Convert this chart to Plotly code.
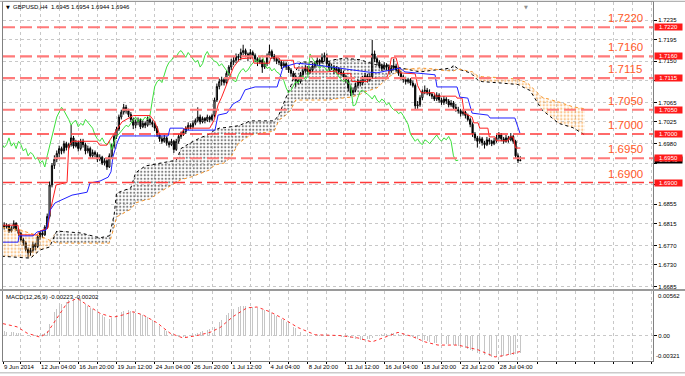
import plotly.graph_objects as go
from plotly.subplots import make_subplots

# ---------------- data (prices in pips above 1.6000) ----------------
BASE = 1.6
PIP = 0.0001
FIRST_BAR = -15          # bar index 0 = 12 Jun 04:00, H4 bars

OPEN_P = [812, 808, 812, 800, 806, 816, 803, 795, 782, 776, 762, 755, 760, 772, 768,
          788, 796, 792, 808, 830, 895, 935, 948, 960, 970,
          965, 980, 972, 978, 992, 975, 982, 970, 985, 978,
          965, 970, 955, 962, 958, 948, 952, 940, 945, 932,
          955, 975, 995, 1010, 1035, 1045, 1055, 1048, 1040, 1030,
          1018, 1025, 1028, 1015, 1022, 1018, 1030, 1024, 1020, 1012,
          998, 990, 985, 992, 982, 978, 985, 968, 985, 995,
          1000, 1005, 1012, 1018, 1015, 1022, 1028, 1035, 1025, 1032,
          1028, 1035, 1030, 1038, 1070, 1098, 1108, 1112, 1106, 1125,
          1138, 1148, 1152, 1160, 1158, 1168, 1172, 1165, 1158, 1168,
          1162, 1155, 1148, 1152, 1138, 1145, 1162, 1170, 1160, 1155,
          1150, 1148, 1140, 1145, 1138, 1132, 1125, 1118, 1110, 1108,
          1122, 1130, 1135, 1128, 1132, 1140, 1145, 1152, 1148, 1158,
          1162, 1145, 1135, 1138, 1130, 1135, 1128, 1125, 1118, 1110,
          1095, 1085, 1090, 1100, 1108, 1105, 1115, 1120, 1112, 1118,
          1165, 1155, 1148, 1140, 1135, 1142, 1138, 1130, 1136, 1140,
          1132, 1125, 1118, 1112, 1108, 1112, 1105, 1100, 1058, 1060,
          1075, 1088, 1090, 1085, 1082, 1078, 1072, 1080, 1070, 1065,
          1072, 1068, 1060, 1064, 1055, 1050, 1048, 1042, 1045, 1038,
          1030, 1020, 1000, 992, 985, 990, 982, 978, 988, 985,
          980, 986, 992, 998, 990, 985, 992, 988, 995, 985,
          955, 945]
HIGH_P = [818, 816, 814, 810, 822, 818, 806, 798, 786, 779, 766, 765, 778, 776, 792,
          800, 802, 812, 836, 902, 940, 956, 966, 976, 974,
          986, 984, 982, 1019, 996, 988, 986, 990, 990, 982,
          976, 974, 968, 966, 962, 958, 955, 950, 948, 960,
          980, 1000, 1015, 1040, 1050, 1062, 1060, 1052, 1045, 1034,
          1030, 1034, 1032, 1028, 1026, 1036, 1034, 1028, 1024, 1016,
          1002, 995, 998, 995, 986, 990, 988, 990, 1000, 1005,
          1010, 1016, 1024, 1022, 1028, 1032, 1055, 1040, 1036, 1035,
          1040, 1038, 1042, 1075, 1104, 1114, 1118, 1116, 1130, 1142,
          1155, 1160, 1166, 1165, 1176, 1184, 1176, 1168, 1175, 1172,
          1166, 1158, 1160, 1155, 1150, 1166, 1184, 1174, 1165, 1160,
          1156, 1152, 1150, 1148, 1142, 1136, 1130, 1122, 1115, 1128,
          1135, 1142, 1140, 1138, 1146, 1150, 1158, 1155, 1166, 1168,
          1166, 1150, 1145, 1142, 1140, 1138, 1134, 1130, 1122, 1114,
          1100, 1096, 1106, 1114, 1112, 1120, 1126, 1124, 1125, 1194,
          1172, 1160, 1152, 1145, 1148, 1146, 1142, 1142, 1155, 1145,
          1136, 1130, 1122, 1118, 1116, 1115, 1110, 1104, 1068, 1080,
          1092, 1100, 1095, 1092, 1086, 1082, 1086, 1084, 1075, 1078,
          1076, 1072, 1070, 1068, 1062, 1056, 1052, 1050, 1048, 1042,
          1034, 1024, 1004, 996, 995, 994, 986, 994, 992, 988,
          992, 998, 1004, 1002, 994, 998, 996, 1002, 998, 988,
          960, 954]
LOW_P = [803, 805, 796, 797, 804, 800, 790, 778, 770, 758, 745, 749, 756, 760, 765,
         782, 786, 790, 804, 826, 890, 928, 942, 952, 958,
         960, 966, 968, 974, 970, 972, 964, 966, 972, 958,
         960, 950, 950, 952, 942, 944, 936, 935, 926, 930,
         950, 970, 990, 1006, 1030, 1040, 1042, 1035, 1025, 1010,
         1012, 1018, 1010, 1012, 1012, 1015, 1018, 1014, 1006, 994,
         984, 980, 982, 976, 972, 975, 961, 965, 980, 990,
         996, 1000, 1008, 1010, 1012, 1018, 1024, 1020, 1022, 1022,
         1025, 1024, 1026, 1034, 1066, 1092, 1100, 1100, 1102, 1120,
         1132, 1142, 1146, 1150, 1152, 1162, 1158, 1150, 1154, 1156,
         1148, 1140, 1144, 1126, 1134, 1140, 1158, 1155, 1150, 1144,
         1142, 1134, 1136, 1132, 1126, 1118, 1112, 1097, 1102, 1104,
         1118, 1126, 1122, 1124, 1128, 1135, 1140, 1142, 1145, 1150,
         1140, 1130, 1132, 1124, 1126, 1122, 1120, 1112, 1104, 1088,
         1078, 1080, 1086, 1096, 1098, 1100, 1110, 1106, 1108, 1114,
         1148, 1142, 1135, 1130, 1132, 1132, 1125, 1126, 1132, 1128,
         1120, 1112, 1106, 1102, 1104, 1100, 1096, 1050, 1052, 1056,
         1070, 1082, 1080, 1078, 1072, 1068, 1068, 1064, 1060, 1060,
         1062, 1055, 1056, 1050, 1046, 1042, 1036, 1038, 1032, 1026,
         1014, 994, 986, 972, 980, 976, 970, 975, 978, 975,
         977, 982, 988, 985, 980, 982, 982, 985, 980, 950,
         940, 944]
CLOSE_P = [808, 812, 800, 806, 816, 803, 795, 782, 776, 762, 755, 760, 772, 768, 788,
           796, 792, 808, 830, 895, 935, 948, 960, 970, 965,
           980, 972, 978, 992, 975, 982, 970, 985, 978, 965,
           970, 955, 962, 958, 948, 952, 940, 945, 932, 955,
           975, 995, 1010, 1035, 1045, 1055, 1048, 1040, 1030, 1018,
           1025, 1028, 1015, 1022, 1018, 1030, 1024, 1020, 1012, 998,
           990, 985, 992, 982, 978, 985, 968, 985, 995, 1000,
           1005, 1012, 1018, 1015, 1022, 1028, 1035, 1025, 1032, 1028,
           1035, 1030, 1038, 1070, 1098, 1108, 1112, 1106, 1125, 1138,
           1148, 1152, 1160, 1158, 1168, 1172, 1165, 1158, 1168, 1162,
           1155, 1148, 1152, 1138, 1145, 1162, 1170, 1160, 1155, 1150,
           1148, 1140, 1145, 1138, 1132, 1125, 1118, 1110, 1108, 1122,
           1130, 1135, 1128, 1132, 1140, 1145, 1152, 1148, 1158, 1162,
           1145, 1135, 1138, 1130, 1135, 1128, 1125, 1118, 1110, 1095,
           1085, 1090, 1100, 1108, 1105, 1115, 1120, 1112, 1118, 1165,
           1155, 1148, 1140, 1135, 1142, 1138, 1130, 1136, 1140, 1132,
           1125, 1118, 1112, 1108, 1112, 1105, 1100, 1058, 1060, 1075,
           1088, 1090, 1085, 1082, 1078, 1072, 1080, 1070, 1065, 1072,
           1068, 1060, 1064, 1055, 1050, 1048, 1042, 1045, 1038, 1030,
           1020, 1000, 992, 985, 990, 982, 978, 988, 985, 980,
           986, 992, 998, 990, 985, 992, 988, 995, 985, 955,
           945, 946]

# Ichimoku lines: (bar index, pips)
TENKAN_X = [-15.5, -9.2, -8.8, -1.3, 0, 3.3, 4.2, 5.4, 6.7, 11.3, 12, 13.4, 23.8, 25, 28, 29.3,
            32.2, 34.3, 39, 46, 48, 50, 58.6, 60.7, 71, 73, 74.5, 76, 78.7, 81, 83.7, 89, 89.5,
            96, 96.5, 100, 100.5, 106, 106.5, 112, 112.5, 120, 124, 124.5, 130, 130.5, 137, 137.5,
            145, 146, 147, 149, 150.6, 157, 158, 159.5, 165, 165.5, 174, 174.5, 176.6, 177.5,
            180.8, 181.5, 183.3, 184, 187.4, 188, 190.4, 191, 195.8, 196.5, 198, 199, 201]
TENKAN_P = [812, 812, 792, 792, 800, 806, 840, 870, 895, 900, 975, 985, 985, 977, 977, 988,
            1010, 1025, 1038, 1038, 1025, 1000, 1000, 1012, 1012, 1030, 1060, 1076, 1110, 1138, 1155, 1157, 1146,
            1146, 1157, 1157, 1152, 1152, 1136, 1136, 1128, 1128, 1130, 1125, 1125, 1108, 1108, 1115,
            1115, 1128, 1157, 1157, 1126, 1124, 1100, 1085, 1085, 1078, 1078, 1074, 1074, 1043,
            1035, 1023, 1023, 1012, 1012, 994, 994, 986, 986, 994, 994, 971, 971]
KIJUN_X = [-15.5, -9.2, -8.8, -2.9, -1.3, 2.5, 3.3, 4.2, 6.3, 11.7, 13.4, 19.7, 20.9, 25.1, 28.5,
           29.7, 30.5, 32.2, 33.5, 53.6, 54.4, 59.8, 60.7, 73.2, 74.5, 78.2, 80.8, 83.7, 85.8, 90,
           99.2, 101.7, 107.5, 115.9, 121.3, 129.7, 136.8, 141, 146.4, 150.6, 152.7, 158.2, 165.3,
           166.1, 174.5, 175.7, 179, 180.8, 187.4, 188.3, 198.7, 200.8]
KIJUN_P = [777, 777, 790, 790, 798, 802, 819, 843, 858, 870, 874, 880, 899, 903, 911,
           922, 953, 981, 996, 996, 1012, 1012, 1008, 1008, 1039, 1043, 1062, 1070, 1091, 1097,
           1097, 1138, 1146, 1142, 1138, 1132, 1128, 1126, 1132, 1136, 1128, 1126, 1122,
           1097, 1097, 1076, 1074, 1043, 1039, 1033, 1033, 1002]
SPAN_X = [-16, -8, -4, 0, 4, 7, 17, 25, 29, 31, 32, 38, 40, 44, 46, 50, 55, 57, 59, 63,
          67, 71, 73, 75, 77, 80, 83, 88, 98, 100, 102, 105, 107, 109, 121, 123, 128, 130, 134, 136,
          141, 146, 151, 159, 165, 167, 172, 173, 175, 180, 181, 183, 185, 193, 200, 204, 205, 210,
          217, 223, 228]
SPAN_A_P = [748, 746, 744, 761, 767, 800, 796, 786, 790, 833, 878, 889, 920, 934, 936, 940, 944, 946, 970, 982,
            992, 1000, 1008, 1012, 1013, 1015, 1017, 1027, 1027, 1040, 1065, 1100, 1130, 1148, 1150, 1153, 1157, 1155, 1153, 1150,
            1142, 1142, 1136, 1128, 1132, 1133, 1136, 1142, 1134, 1126, 1122, 1112, 1108, 1105, 1102, 1092, 1090, 1050,
            1022, 1013, 998]
SPAN_B_P = [808, 802, 795, 790, 781, 775, 775, 775, 775, 808, 829, 845, 858, 864, 866, 880, 895, 901, 906, 911,
            918, 926, 936, 938, 940, 953, 981, 998, 1006, 1029, 1035, 1050, 1070, 1070, 1070, 1072, 1075, 1076, 1082, 1087,
            1095, 1118, 1132, 1136, 1134, 1132, 1130, 1130, 1134, 1130, 1128, 1120, 1118, 1116, 1113, 1105, 1100, 1076,
            1066, 1056, 1052]
CHIKOU_SHIFT = 26

# MACD main (histogram, 1e-5 units, one per bar) and signal line vertices
MACD_HIST = [52, 50, 48, 45, 42, 38, 30, 18, 5, -5, -12, -15, -10, -2, 8, 12,
             20, 35, 60, 150, 240, 300, 340, 370, 395, 410, 425,
             445, 460, 475, 480, 470, 455, 430, 400, 375, 350, 330,
             315, 295, 275, 255, 240, 220, 215, 225, 245, 265,
             285, 300, 315, 320, 318, 310, 300, 290, 280, 268, 255, 240, 228, 215,
             198, 175, 150, 120, 95, 75, 55, 40, 25, 10, 0, -12, -18, -20, -15, -8,
             5, 15, 25, 35, 45, 55, 65, 75, 85, 95, 105, 130, 170,
             200, 230, 260, 290, 315, 335, 350, 362, 370, 372, 370, 368, 365, 360,
             352, 345, 335, 325, 318, 308, 295, 280, 262, 245, 230,
             210, 190, 170, 150, 130, 112, 90, 65, 40, 20,
             8, 2, -2, 0, 4, 6, 5, 2, 0, 6, 2, -4, -6, -4, -8, -12, -15, -18, -22,
             -30, -38, -45, -52, -58, -60, -55, -48, -40, -28, -10, 2, 10, 15,
             20, 24, 28, 30, 28, 25, 20, 15, 10, 5, -2, -10, -15, -30, -42, -50,
             -58, -62, -72, -80, -85, -90, -92, -98, -102, -105, -108, -110, -112, -118, -125, -132, -140, -150,
             -160, -172, -185, -198, -210, -220, -230, -240, -248, -255, -262, -268, -272, -270,
             -268, -265, -260, -255, -250, -245, -240, -232, -226, -223]
SIGNAL_X = [-15.5, -9.6, -5.4, 0, 2.9, 7.1, 11.3, 15.5, 19.7, 25.1, 30.5, 34.7, 38.9, 43.1, 49, 54.4,
            59.8, 65.7, 71.1, 75.3, 80.8, 86.6, 90.8, 96.2, 101.3, 108, 115.1, 125.5, 133, 138.9,
            144.4, 149.8, 155.6, 161.1, 166.5, 174.9, 183.3, 190.4, 194.6, 200.8]
SIGNAL_V = [150, 110, 30, -20, 30, 220, 410, 470, 390, 280, 230, 260, 300, 260, 160, 30,
            -30, 0, 40, 100, 240, 350, 360, 300, 220, 100, 10, 0, -30, -80,
            -20, 40, -10, -80, -120, -120, -180, -270, -250, -202]

LEVELS = [1.7220, 1.7160, 1.7115, 1.7050, 1.7000, 1.6950, 1.6900]
LEVEL_THICK = [True, True, True, True, False, True, False]
PRICE_TICKS = [1.7235, 1.7195, 1.7150, 1.7110, 1.7065, 1.7025, 1.6980, 1.6940,
               1.6895, 1.6855, 1.6815, 1.6770, 1.6730, 1.6685]
# tick labels hidden behind the level boxes in the original
HIDDEN_TICKS = [1.7110, 1.6940, 1.6895]
DATE_TICKS = [0, 16, 32, 48, 64, 80, 96, 112, 128, 144, 160, 176, 192]
DATE_LABELS = ["12 Jun 04:00", "16 Jun 20:00", "19 Jun 12:00", "24 Jun 04:00", "26 Jun 20:00",
               "1 Jul 12:00", "4 Jul 04:00", "8 Jul 20:00", "11 Jul 12:00", "16 Jul 04:00",
               "18 Jul 20:00", "23 Jul 12:00", "28 Jul 04:00"]
FIRST_LABEL = "9 Jun 2014"
TITLE = "GBPUSD,H4  1.6945 1.6954 1.6944 1.6946"
MACD_TITLE = "MACD(12,26,9) -0.00223 -0.00202"
LAST_PRICE = 1.6946

# ---------------- helpers ----------------
def px(vals):
    return [BASE + v * PIP for v in vals]

BARS = list(range(FIRST_BAR, FIRST_BAR + len(CLOSE_P)))
X_MIN, X_MAX = -15.5, 256.5
Y_MIN, Y_MAX = 1.66805, 1.72721
M_MIN, M_MAX = -0.00321, 0.00562
FONT = "Liberation Sans"
GRID = "#C8C8C8"
TICKFONT = dict(family=FONT, size=6, color="#000000")
ORANGE = "#F7962A"

fig = make_subplots(rows=2, cols=1, shared_xaxes=True, vertical_spacing=0.0)

span_a = px(SPAN_A_P)
span_b = px(SPAN_B_P)
span_top = [max(a, b) for a, b in zip(span_a, span_b)]

# black-dotted cloud (A above B)
fig.add_trace(go.Scatter(x=SPAN_X, y=span_b, mode="lines", line=dict(width=0),
                         hoverinfo="skip", showlegend=False), row=1, col=1)
fig.add_trace(go.Scatter(x=SPAN_X, y=span_top, mode="lines", line=dict(width=0),
                         fill="tonexty", fillcolor="rgba(0,0,0,0)",
                         fillpattern=dict(shape=".", fgcolor="#000000", bgcolor="rgba(0,0,0,0)",
                                          size=3.5, solidity=0.3),
                         hoverinfo="skip", showlegend=False), row=1, col=1)
# orange-dotted cloud (B above A)
fig.add_trace(go.Scatter(x=SPAN_X, y=span_a, mode="lines", line=dict(width=0),
                         hoverinfo="skip", showlegend=False), row=1, col=1)
fig.add_trace(go.Scatter(x=SPAN_X, y=span_top, mode="lines", line=dict(width=0),
                         fill="tonexty", fillcolor="rgba(0,0,0,0)",
                         fillpattern=dict(shape=".", fgcolor=ORANGE, bgcolor="rgba(0,0,0,0)",
                                          size=3.5, solidity=0.38),
                         hoverinfo="skip", showlegend=False), row=1, col=1)
# span lines
fig.add_trace(go.Scatter(x=SPAN_X, y=span_a, mode="lines",
                         line=dict(color="#000000", width=1, dash="dot"),
                         hoverinfo="skip", showlegend=False), row=1, col=1)
fig.add_trace(go.Scatter(x=SPAN_X, y=span_b, mode="lines",
                         line=dict(color=ORANGE, width=1, dash="dot"),
                         hoverinfo="skip", showlegend=False), row=1, col=1)

# chikou (close shifted back)
fig.add_trace(go.Scatter(x=[b - CHIKOU_SHIFT for b in BARS], y=px(CLOSE_P), mode="lines",
                         line=dict(color="#3CE03C", width=1), hoverinfo="skip",
                         showlegend=False), row=1, col=1)

# candles
fig.add_trace(go.Candlestick(x=BARS, open=px(OPEN_P), high=px(HIGH_P), low=px(LOW_P),
                             close=px(CLOSE_P),
                             increasing=dict(line=dict(color="#000000", width=1), fillcolor="#FFFFFF"),
                             decreasing=dict(line=dict(color="#000000", width=1), fillcolor="#000000"),
                             whiskerwidth=0, showlegend=False, hoverinfo="skip"), row=1, col=1)

# tenkan / kijun
fig.add_trace(go.Scatter(x=TENKAN_X, y=px(TENKAN_P), mode="lines",
                         line=dict(color="#FF2020", width=1), hoverinfo="skip",
                         showlegend=False), row=1, col=1)
fig.add_trace(go.Scatter(x=KIJUN_X, y=px(KIJUN_P), mode="lines",
                         line=dict(color="#2020FF", width=1), hoverinfo="skip",
                         showlegend=False), row=1, col=1)

# MACD
fig.add_trace(go.Bar(x=BARS, y=[v * 1e-5 for v in MACD_HIST], width=0.3,
                     marker=dict(color="#C6C6C6", line=dict(width=0)),
                     hoverinfo="skip", showlegend=False), row=2, col=1)
fig.add_trace(go.Scatter(x=SIGNAL_X, y=[v * 1e-5 for v in SIGNAL_V], mode="lines",
                         line=dict(color="#FF3030", width=1, dash="dot"),
                         hoverinfo="skip", showlegend=False), row=2, col=1)

# ---------------- axes ----------------
grid_vals = [-15.45] + list(range(-8, 257, 8))
grid_text = [FIRST_LABEL] + [DATE_LABELS[DATE_TICKS.index(v)] if v in DATE_TICKS else ""
                             for v in range(-8, 257, 8)]
price_text = ["" if v in HIDDEN_TICKS else f"{v:.4f}" for v in PRICE_TICKS]

common_x = dict(range=[X_MIN, X_MAX], tickvals=grid_vals, showgrid=True, gridcolor=GRID,
                griddash="dot", gridwidth=1, zeroline=False, showline=True, mirror=True,
                linecolor="#808080", linewidth=1, automargin=False)
fig.update_xaxes(**common_x)
fig.update_layout(
    xaxis=dict(showticklabels=False, rangeslider=dict(visible=False)),
    xaxis2=dict(ticktext=grid_text, ticklabelposition="outside right", tickangle=0,
                ticks="outside", ticklen=2, tickcolor="#000000", tickfont=TICKFONT),
    yaxis=dict(domain=[0.2006, 1.0], range=[Y_MIN, Y_MAX], side="right", tickvals=PRICE_TICKS,
               ticktext=price_text, ticks="outside", ticklen=3,
               tickcolor="#000000", tickfont=TICKFONT, automargin=False,
               showgrid=True, gridcolor=GRID, griddash="dot", zeroline=False,
               showline=True, mirror=True, linecolor="#808080"),
    yaxis2=dict(domain=[0.0, 0.195], range=[M_MIN, M_MAX], side="right", tickvals=[0],
                ticktext=["0.00"], ticks="outside", ticklen=3, tickcolor="#000000",
                tickfont=TICKFONT, automargin=False,
                showgrid=True, gridcolor=GRID, griddash="dot", zeroline=False,
                showline=True, mirror=True, linecolor="#808080"),
)

# ---------------- shapes ----------------
shapes = []
for lv, thick in zip(LEVELS, LEVEL_THICK):
    shapes.append(dict(type="line", xref="paper", yref="y", x0=0, x1=1, y0=lv, y1=lv,
                       line=dict(color="#FF7A7A" if thick else "#FF3A3A",
                                 width=2.2 if thick else 1.3, dash="12px,5px")))
# panel separator
shapes.append(dict(type="rect", xref="paper", yref="paper", x0=-0.005, x1=1.05,
                   y0=0.195, y1=0.2006, fillcolor="#9A9A9A", line=dict(width=0)))
# window top line
shapes.append(dict(type="line", xref="paper", yref="paper", x0=-0.005, x1=1.05, y0=1.002, y1=1.002,
                   line=dict(color="#A0A0A0", width=1)))
# bottom tab bar
shapes.append(dict(type="line", xref="paper", yref="paper", x0=-0.005, x1=1.05,
                   y0=-0.033, y1=-0.033, line=dict(color="#B0B0B0", width=1)))
fig.update_layout(shapes=shapes)

# ---------------- annotations ----------------
ann = []
ann.append(dict(text="▼", xref="paper", yref="paper", x=0.002, y=0.986, xanchor="left",
                yanchor="middle", showarrow=False, font=dict(family="DejaVu Sans", size=5, color="#000000")))
ann.append(dict(text=TITLE, xref="paper", yref="paper", x=0.013, y=0.986, xanchor="left",
                yanchor="middle", showarrow=False, font=dict(family=FONT, size=6, color="#000000")))
ann.append(dict(text="▼", xref="paper", yref="paper", x=(526 - 3) / 650, y=1.0, xanchor="center",
                yanchor="top", showarrow=False, font=dict(family="DejaVu Sans", size=5, color="#909090")))
ann.append(dict(text=MACD_TITLE, xref="paper", yref="y2 domain", x=0.0, y=1.0, xshift=1, yshift=-1,
                xanchor="left", yanchor="top", showarrow=False,
                font=dict(family=FONT, size=6, color="#000000")))
ann.append(dict(text="0.00562", xref="paper", yref="y2 domain", x=1.0, y=1.0, xshift=3,
                xanchor="left", yanchor="top", showarrow=False, font=TICKFONT))
ann.append(dict(text="-0.00321", xref="paper", yref="y2 domain", x=1.0, y=0.0, xshift=1,
                xanchor="left", yanchor="bottom", showarrow=False, font=TICKFONT))
# current price box then level boxes
ann.append(dict(text=f"{LAST_PRICE:.4f}", xref="paper", yref="y", x=1.0, y=LAST_PRICE, xshift=1,
                xanchor="left", yanchor="middle", showarrow=False, bgcolor="#000000", width=27,
                borderpad=0, font=dict(family=FONT, size=6, color="#FFFFFF")))
for lv in LEVELS:
    ann.append(dict(text=f"{lv:.4f}", xref="paper", yref="y", x=1.0, y=lv, xshift=1,
                    xanchor="left", yanchor="middle", showarrow=False, bgcolor="#FF1A1A", width=27,
                    borderpad=0, font=dict(family=FONT, size=6, color="#FFFFFF")))
    ann.append(dict(text=f"{lv:.4f}", xref="paper", yref="y", x=(606 - 3) / 650, y=lv, yshift=9,
                    xanchor="left", yanchor="middle", showarrow=False,
                    font=dict(family=FONT, size=11.5, color="#FF5A2A")))
fig.update_layout(annotations=ann)

fig.update_layout(width=685, height=376, autosize=False,
                  margin=dict(l=3, r=32, t=2, b=15, autoexpand=False),
                  paper_bgcolor="#FFFFFF", plot_bgcolor="#FFFFFF",
                  bargap=0, showlegend=False, hovermode=False)

# remove the browser's default page margin so the figure sits at the window origin
fig.write_html("out.html", config={"displayModeBar": False, "staticPlot": True},
               post_script="document.body.style.margin='0px';document.body.style.overflow='hidden';")
